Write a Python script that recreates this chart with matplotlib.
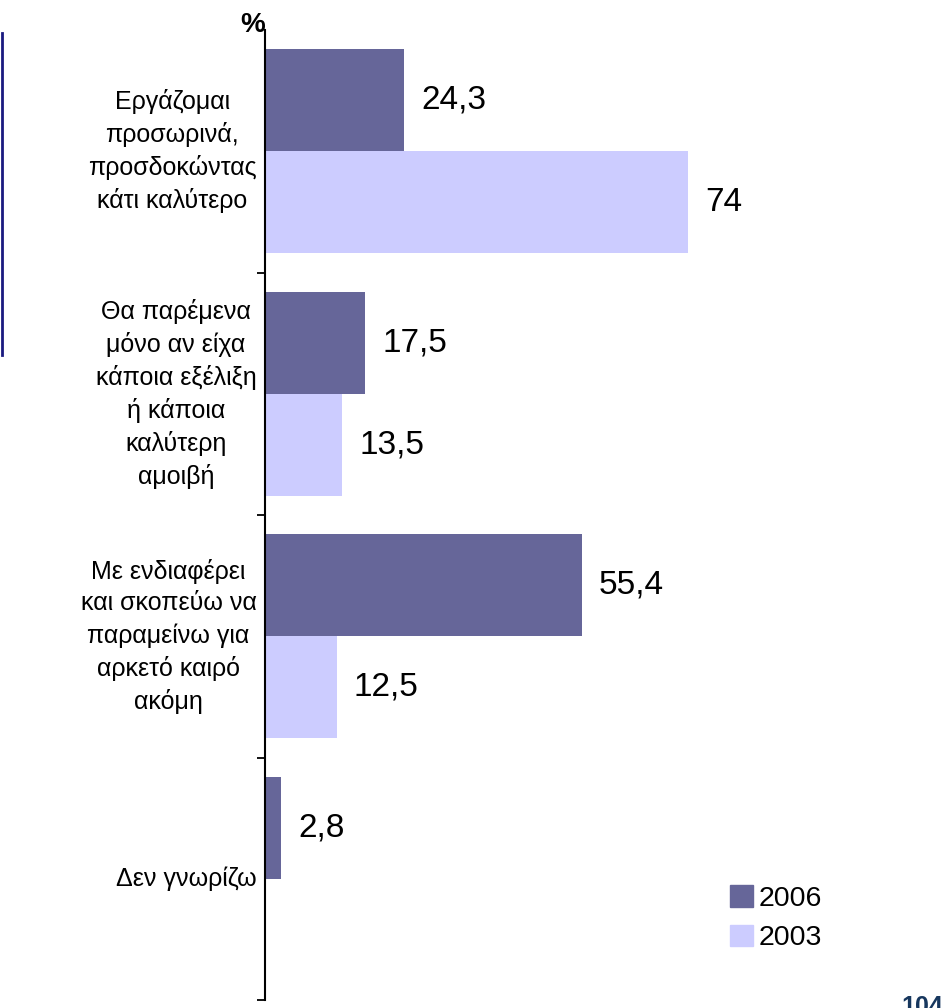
import matplotlib
matplotlib.use("Agg")
import matplotlib.pyplot as plt
from matplotlib.patches import Patch
from matplotlib.lines import Line2D

plt.rcParams['font.family'] = ['Liberation Sans', 'DejaVu Sans']

categories = [
    "Εργάζομαι\nπροσωρινά,\nπροσδοκώντας\nκάτι καλύτερο",
    "Θα παρέμενα\nμόνο αν είχα\nκάποια εξέλιξη\nή κάποια\nκαλύτερη\nαμοιβή",
    "Με ενδιαφέρει\nκαι σκοπεύω να\nπαραμείνω για\nαρκετό καιρό\nακόμη",
    "Δεν γνωρίζω",
]
values_2006 = [24.3, 17.5, 55.4, 2.8]
values_2003 = [74, 13.5, 12.5, None]
labels_2006 = ["24,3", "17,5", "55,4", "2,8"]
labels_2003 = ["74", "13,5", "12,5", None]

c2006 = "#666699"
c2003 = "#ccccff"

fig = plt.figure(figsize=(9.48, 10.08), dpi=100)
ax = fig.add_axes([265 / 948, 8 / 1008, 1 - 265 / 948, 970 / 1008])

h = 0.42
for i in range(len(categories)):
    ax.barh(i - h / 2, values_2006[i], height=h, color=c2006)
    ax.text(values_2006[i] + 3, i - h / 2, labels_2006[i], va="center", ha="left", fontsize=24)
    if values_2003[i] is not None:
        ax.barh(i + h / 2, values_2003[i], height=h, color=c2003)
        ax.text(values_2003[i] + 3, i + h / 2, labels_2003[i], va="center", ha="left", fontsize=24)
    ax.text(-1.5, i, categories[i], ha="right", va="center", multialignment="center",
            fontsize=18, linespacing=1.4)

ax.set_xlim(0, 119.4)
ax.set_ylim(3.5, -0.5)
ax.set_yticks([0.5, 1.5, 2.5, 3.5])
ax.set_yticklabels([])
ax.tick_params(axis="y", direction="out", length=6, width=1.3, color="black")
ax.set_xticks([])
for s in ["top", "right", "bottom"]:
    ax.spines[s].set_visible(False)
ax.spines["left"].set_linewidth(1.5)

handles = [Patch(color=c2006, label="2006"), Patch(color=c2003, label="2003")]
fig.legend(handles=handles, loc="upper left", bbox_to_anchor=(730 / 948, 1 - 885 / 1008),
           frameon=False, fontsize=20.5, handlelength=0.8, handleheight=0.8,
           handletextpad=0.2, borderpad=0, borderaxespad=0, labelspacing=0.45)

fig.text(253 / 948, 1 - 25 / 1008, "%", fontsize=20, fontweight="bold", ha="center", va="center")
fig.text(922 / 948, 1 - 995 / 1008, "104", fontsize=18, fontweight="bold", color="#17375E",
         ha="center", va="top")
fig.add_artist(Line2D([2 / 948, 2 / 948], [1 - 33 / 1008, 1 - 355 / 1008],
                      transform=fig.transFigure, color="#1a1a80", linewidth=2))

fig.savefig("out.png", dpi=100)
